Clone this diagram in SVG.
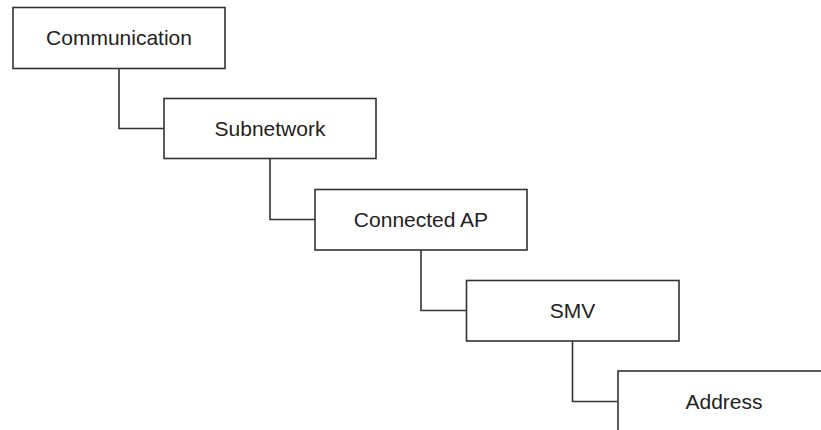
<svg xmlns="http://www.w3.org/2000/svg" width="821" height="430" viewBox="0 0 821 430">
<style>
.box{fill:#fff;stroke:#333;stroke-width:1.6}
.lbl{font-family:"Liberation Sans",Arial,sans-serif;font-size:21px;fill:#222;text-anchor:middle;dominant-baseline:central}
.con{fill:none;stroke:#333;stroke-width:1.6}
</style>
<rect width="821" height="430" fill="#fff"/>
<g id="connectors">
<polyline class="con" points="119,68 119,128.5 164,128.5"/>
<polyline class="con" points="270,159 270,219.5 315,219.5"/>
<polyline class="con" points="421,250 421,310.5 466,310.5"/>
<polyline class="con" points="572.5,341 572.5,401.5 617,401.5"/>
</g>
<g id="communication">
<rect class="box" x="13" y="7.5" width="212" height="61"/>
<text class="lbl" x="119" y="37.5">Communication</text>
</g>
<g id="subnetwork">
<rect class="box" x="164" y="98.5" width="212" height="60"/>
<text class="lbl" x="270" y="128">Subnetwork</text>
</g>
<g id="connected-ap">
<rect class="box" x="315" y="189.5" width="212" height="60.5"/>
<text class="lbl" x="421" y="219">Connected AP</text>
</g>
<g id="smv">
<rect class="box" x="466.5" y="280.5" width="212.5" height="60.5"/>
<text class="lbl" x="572.5" y="310">SMV</text>
</g>
<g id="address">
<rect class="box" x="618" y="371" width="212" height="70"/>
<text class="lbl" x="724" y="401">Address</text>
</g>
</svg>
